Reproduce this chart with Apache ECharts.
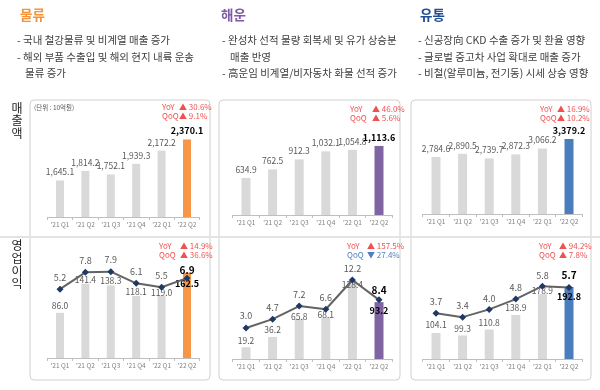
<!DOCTYPE html>
<html><head><meta charset="utf-8">
<script src="https://cdn.jsdelivr.net/npm/echarts@6/dist/echarts.min.js"></script>
<style>html,body{margin:0;padding:0;background:#fff}#c{width:600px;height:390px}</style>
</head><body><div id="c"></div>
<script>
// ---------- data ----------
const categories = ["'21 Q1", "'21 Q2", "'21 Q3", "'21 Q4", "'22 Q1", "'22 Q2"];
const segmentNames = ["물류", "해운", "유통"];
const rowLabels = ["매출액", "영업이익"];
const unitText = "(단위 : 10억원)";
const bullets = [
  ["- 국내 철강물류 및 비계열 매출 증가", "- 해외 부품 수출입 및 해외 현지 내륙 운송", "  물류 증가"],
  ["- 완성차 선적 물량 회복세 및 유가 상승분", "  매출 반영", "- 高운임 비계열/비자동차 화물 선적 증가"],
  ["- 신공장向 CKD 수출 증가 및 환율 영향", "- 글로벌 중고차 사업 확대로 매출 증가", "- 비철(알루미늄, 전기동) 시세 상승 영향"]
];
const logisticsRevenue = [1645.1, 1814.2, 1752.1, 1939.3, 2172.2, 2370.1];
const shippingRevenue = [634.9, 762.5, 912.3, 1032.1, 1054.8, 1113.6];
const distributionRevenue = [2784.6, 2890.5, 2739.7, 2872.3, 3066.2, 3379.2];
const logisticsProfit = [86.0, 141.4, 138.3, 118.1, 119.0, 162.5];
const shippingProfit = [19.2, 36.2, 65.8, 68.1, 128.4, 93.2];
const distributionProfit = [104.1, 99.3, 110.8, 138.9, 178.9, 192.8];
const logisticsMargin = [5.2, 7.8, 7.9, 6.1, 5.5, 6.9];
const shippingMargin = [3.0, 4.7, 7.2, 6.6, 12.2, 8.4];
const distributionMargin = [3.7, 3.4, 4.0, 4.8, 5.8, 5.7];
const revenueYoY = [30.6, 46.0, 16.9];
const revenueQoQ = [9.1, 5.6, 10.2];
const profitYoY = [14.9, 157.5, 94.2];
const profitQoQ = [36.6, -27.4, 7.8];

// ---------- layout / style ----------
const FONT = "'Noto Sans CJK KR', 'Noto Sans', sans-serif";
const accents = ['#F79646', '#8064A2', '#4A7DBB'];
const headerColors = ['#F7923A', '#7F5BA6', '#1F4E96'];
const colX = [{left: 47.3, width: 152.4}, {left: 232.7, width: 159.6}, {left: 422.7, width: 159.6}];
const barW = [8, 9, 9];
const revAxes = [
  {top: 103.8, height: 113.2, min: 1000, max: 3000},
  {top: 126.8, height: 88.2, min: 80, max: 1400},
  {top: 120.2, height: 93.8, min: 904, max: 4000}
];
const profAxes = [
  {top: 253, height: 105, min: 0, max: 200, lmin: -5.385, lmax: 10.769},
  {top: 253, height: 106, min: 0, max: 173.8, lmin: -2.93, lmax: 17.375},
  {top: 253, height: 106, min: 54, max: 258.2, lmin: 0.155, lmax: 8.372}
];
const profLabelDy = [[1, 4, 3.5, 4, 5, 19], [2, 1, 6, 6, 12, 17], [0, 2, 2, 1, 5, 18]];
const lineLabelDy = [[0, 0, 0, 0, 0, 5], [0, 0, 0, 0, 1, 3], [0, 0, 1, 0, 1, 0]];
const revenues = [logisticsRevenue, shippingRevenue, distributionRevenue];
const profits = [logisticsProfit, shippingProfit, distributionProfit];
const margins = [logisticsMargin, shippingMargin, distributionMargin];

const fmt = v => v.toLocaleString('en-US', {minimumFractionDigits: 1, maximumFractionDigits: 1});

const grid = [], xAxis = [], yAxis = [], series = [];
function addCatAxis(gi) {
  xAxis.push({
    type: 'category', gridIndex: gi, data: categories, boundaryGap: true,
    axisLine: {lineStyle: {color: '#BFBFBF', width: 1}},
    axisTick: {show: true, length: 3, lineStyle: {color: '#BFBFBF'}},
    axisLabel: {fontSize: 6.5, color: '#808080', margin: 4, fontFamily: FONT}
  });
}
function hiddenVal(gi, min, max) {
  yAxis.push({type: 'value', gridIndex: gi, min: min, max: max, show: false, splitLine: {show: false}});
}
for (let c = 0; c < 3; c++) {
  grid.push({left: colX[c].left, width: colX[c].width, top: revAxes[c].top, height: revAxes[c].height});
  addCatAxis(c);
  hiddenVal(c, revAxes[c].min, revAxes[c].max);
}
for (let c = 0; c < 3; c++) {
  grid.push({left: colX[c].left, width: colX[c].width, top: profAxes[c].top, height: profAxes[c].height});
  addCatAxis(3 + c);
  hiddenVal(3 + c, profAxes[c].min, profAxes[c].max);
}
for (let c = 0; c < 3; c++) hiddenVal(3 + c, profAxes[c].lmin, profAxes[c].lmax);

const normalLbl = {fontSize: 8.5, color: '#595959', fontFamily: FONT};
const lastLbl = {fontSize: 9, color: '#000', fontWeight: 'bold', fontFamily: FONT};
for (let c = 0; c < 3; c++) {
  series.push({
    type: 'bar', xAxisIndex: c, yAxisIndex: c, barWidth: barW[c],
    itemStyle: {color: '#D9D9D9'},
    label: Object.assign({show: true, position: 'top', distance: 4, formatter: p => fmt(p.value)}, normalLbl),
    data: revenues[c].map((v, i) => i === 5 ? {value: v, itemStyle: {color: accents[c]}, label: lastLbl} : v)
  });
  series.push({
    type: 'bar', xAxisIndex: 3 + c, yAxisIndex: 3 + c, barWidth: barW[c],
    itemStyle: {color: '#D9D9D9'},
    label: Object.assign({show: true, position: 'top', distance: 4, formatter: p => fmt(p.value)}, normalLbl),
    data: profits[c].map((v, i) => ({
      value: v,
      itemStyle: i === 5 ? {color: accents[c]} : undefined,
      label: Object.assign({offset: [0, profLabelDy[c][i]]}, i === 5 ? lastLbl : {})
    }))
  });
  series.push({
    type: 'line', xAxisIndex: 3 + c, yAxisIndex: 6 + c, z: 5,
    symbol: 'diamond', symbolSize: 7,
    itemStyle: {color: '#1F3864'},
    lineStyle: {color: '#636363', width: 2},
    label: {show: true, position: 'top', distance: 4, fontSize: 9, color: '#595959', fontFamily: FONT,
      formatter: p => p.value.toFixed(1)},
    data: margins[c].map((v, i) => ({
      value: v,
      label: Object.assign({offset: [0, lineLabelDy[c][i]]}, i === 5 ? {fontSize: 10, fontWeight: 'bold', color: '#000'} : {})
    }))
  });
}

// ---------- decorations (text, boxes) ----------
const graphic = [];
const boxes = [{x: 30, w: 180}, {x: 219, w: 181}, {x: 411, w: 180}];
boxes.forEach(b => graphic.push({type: 'rect', z: -1, shape: {x: b.x, y: 100, width: b.w, height: 280, r: 4},
  style: {fill: 'none', stroke: '#D0D0D0', lineWidth: 1}}));
graphic.push({type: 'line', z: -1, shape: {x1: 0, y1: 237, x2: 600, y2: 237}, style: {stroke: '#E4E4E4', lineWidth: 2}});
function txt(t, x, y, o) {
  graphic.push({type: 'text', x: x, y: y, style: Object.assign({text: t, fontFamily: FONT, fontSize: 10,
    fill: '#404040', align: 'left', verticalAlign: 'middle'}, o || {})});
}
const headerX = [20, 221, 420];
const bulletX = [17, 222, 418];
segmentNames.forEach((n, c) => txt(n, headerX[c], 15, {fontSize: 13.5, fontWeight: 'bold', fill: headerColors[c]}));
const bulletY = [40, 57, 73];
bullets.forEach((lines, c) => lines.forEach((l, j) => {
  const indent = l.startsWith('  ');
  txt(l.trim(), bulletX[c] + (indent ? 8 : 0), bulletY[j], {fontSize: 10.5});
}));
const rowY = [[108, 120, 133], [245, 258, 271, 283]];
rowLabels.forEach((s, r) => Array.from(s).forEach((ch, k) => txt(ch, 17, rowY[r][k], {fontSize: 12, fill: '#222', align: 'center'})));
txt(unitText, 34, 108, {fontSize: 6.5, fill: '#595959'});
const revTag = [{L: 162, A: 179, y: 107}, {L: 350, A: 372, y: 109}, {L: 540, A: 557, y: 109}];
const profTag = [{L: 159, A: 180, y: 246}, {L: 347, A: 367, y: 246}, {L: 539, A: 559, y: 246}];
function tags(pos, yoy, qoq) {
  [['YoY', yoy, 0], ['QoQ', qoq, 9]].forEach(([name, v, dy]) => {
    const up = v >= 0;
    const col = up ? '#F05050' : '#4F7FC0';
    txt(name, pos.L, pos.y + dy, {fontSize: 8, fill: col});
    txt((up ? '▲ ' : '▼ ') + Math.abs(v).toFixed(1) + '%', pos.A, pos.y + dy, {fontSize: 8, fill: col});
  });
}
for (let c = 0; c < 3; c++) {
  tags(revTag[c], revenueYoY[c], revenueQoQ[c]);
  tags(profTag[c], profitYoY[c], profitQoQ[c]);
}

const chart = echarts.init(document.getElementById('c'), null, {renderer: 'canvas'});
chart.setOption({animation: false, grid, xAxis, yAxis, series, graphic});
</script>
</body></html>
